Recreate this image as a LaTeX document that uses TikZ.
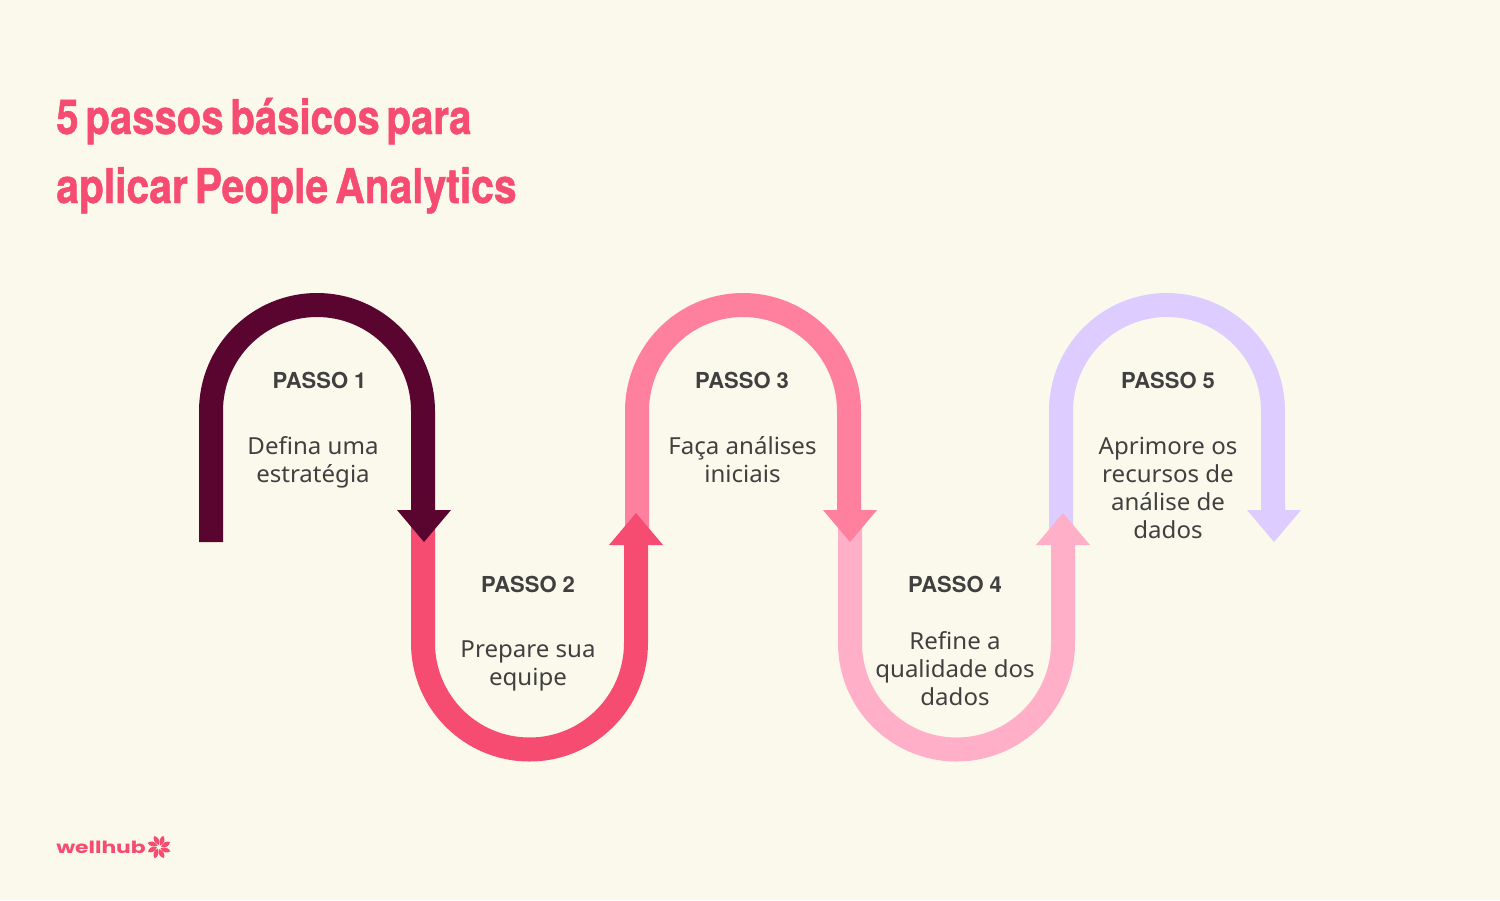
\documentclass[tikz,border=0pt]{standalone}
\usepackage{fontspec}
\setmainfont[FakeStretch=1.025]{Noto Sans}
\newfontfamily\passofont{TeX Gyre Heros Bold}
\newfontfamily\titlefont[FakeStretch=0.85,FakeBold=1.0,WordSpace=0.62]{TeX Gyre Heros Bold}
\newfontfamily\titlefontb[FakeStretch=0.835,FakeBold=1.0,WordSpace=0.62]{TeX Gyre Heros Bold}
\newfontfamily\logofont[FakeStretch=1.3]{Poppins Bold}
\definecolor{bgc}{HTML}{FBF9EB}
\definecolor{cone}{HTML}{5A052F}
\definecolor{ctwo}{HTML}{F64C72}
\definecolor{cthree}{HTML}{FF7F9F}
\definecolor{cfour}{HTML}{FFB0C8}
\definecolor{cfive}{HTML}{DDCCFF}
\definecolor{txt}{HTML}{404040}
\tikzset{
  band/.style={line width=18pt,line cap=butt,line join=round},
  steptitle/.style={text=txt,font=\fontsize{16.5pt}{21pt}\passofont,anchor=base,inner sep=0pt},
  stepbody/.style={text=txt,font=\fontsize{17.6pt}{21pt}\selectfont,align=center,anchor=base,inner sep=0pt},
  headline/.style={text=ctwo,anchor=base west,inner sep=0pt},
}
\begin{document}
\begin{tikzpicture}[x=0.75pt,y=-0.75pt]
\useasboundingbox[fill=bgc] (0,0) rectangle (1500,900);
% arch 5
\coordinate (e1) at (1061,540); \coordinate (e2) at (1061,411); \coordinate (e4) at (1273,512);
\draw[band,cfive] (e1) -- (e2) arc[start angle=180,end angle=0,radius=79.5pt] -- (e4);
\fill[cfive] (1247,510) -- (1301,510) -- (1274,542) -- cycle;
% arch 4
\coordinate (d1) at (850,527); \coordinate (d2) at (850,643); \coordinate (d4) at (1063,542);
\draw[band,cfour] (d1) -- (d2) arc[start angle=180,end angle=360,radius=79.875pt] -- (d4);
\fill[cfour] (1036,545) -- (1090,545) -- (1063,513) -- cycle;
% arch 3
\coordinate (c1) at (637,540); \coordinate (c2) at (637,411); \coordinate (c4) at (849,512);
\draw[band,cthree] (c1) -- (c2) arc[start angle=180,end angle=0,radius=79.5pt] -- (c4);
\fill[cthree] (823,510) -- (877,510) -- (850,542) -- cycle;
% arch 2
\coordinate (b1) at (423,527); \coordinate (b2) at (423,643); \coordinate (b4) at (636,542);
\draw[band,ctwo] (b1) -- (b2) arc[start angle=180,end angle=360,radius=79.875pt] -- (b4);
\fill[ctwo] (609,545) -- (663,545) -- (636,513) -- cycle;
% arch 1
\coordinate (a1) at (211,542); \coordinate (a2) at (211,411); \coordinate (a4) at (423,512);
\draw[band,cone] (a1) -- (a2) arc[start angle=180,end angle=0,radius=79.5pt] -- (a4);
\fill[cone] (397,510) -- (451,510) -- (424,542) -- cycle;
% title
\node[headline,font=\fontsize{36pt}{36pt}\titlefontb] (t1) at (56,134) {5 passos básicos para};
\node[headline,font=\fontsize{36pt}{36pt}\titlefont] (t2) at (56,203) {aplicar People Analytics};
% steps
\node[steptitle] (p1) at (319.5,388) {PASSO 1};
\node[stepbody]  (s1) at (313,482) {Defina uma\\estratégia};
\node[steptitle] (p2) at (528,592) {PASSO 2};
\node[stepbody]  (s2) at (528,685) {Prepare sua\\equipe};
\node[steptitle] (p3) at (742,388) {PASSO 3};
\node[stepbody]  (s3) at (742.5,482) {Faça análises\\iniciais};
\node[steptitle] (p4) at (955,592) {PASSO 4};
\node[stepbody]  (s4) at (955,705) {Refine a\\qualidade dos\\dados};
\node[steptitle] (p5) at (1168,388) {PASSO 5};
\node[stepbody]  (s5) at (1168,538) {Aprimore os\\recursos de\\análise de\\dados};
% logo
\node[text=ctwo,font=\fontsize{12.6pt}{14pt}\logofont,anchor=base west,inner sep=0pt] (logo) at (56,853.5) {wellhub};
\foreach \r in {0,45,...,315}{
  \fill[ctwo,shift={(159,847)},rotate=\r]
    (2,0) .. controls (4,-5) and (7.5,-6) .. (11,-5) .. controls (10.5,-1.5) and (7,1.5) .. (2,0) -- cycle;
}
\end{tikzpicture}
\end{document}
